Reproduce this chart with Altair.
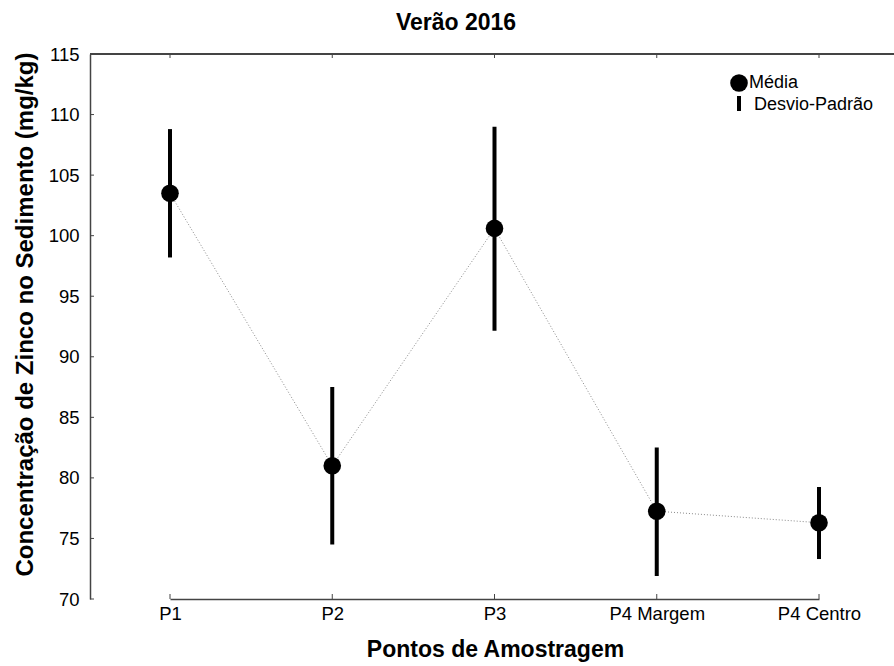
import altair as alt
import pandas as pd

categories = ["P1", "P2", "P3", "P4 Margem", "P4 Centro"]
means = [103.5, 81.0, 100.6, 77.25, 76.3]
lower = [98.2, 74.5, 92.15, 71.9, 73.3]
upper = [108.8, 87.5, 109.0, 82.5, 79.25]
y_ticks = [70, 75, 80, 85, 90, 95, 100, 105, 110, 115]
title_text = "Verão 2016"
x_title = "Pontos de Amostragem"
y_title = "Concentração de Zinco no Sedimento (mg/kg)"
legend_labels = ["Média", "Desvio-Padrão"]

df = pd.DataFrame({"ponto": categories, "media": means, "lo": lower, "hi": upper})
tick_df = pd.DataFrame({"v": y_ticks})
cat_df = pd.DataFrame({"ponto": categories})
legend_df = pd.DataFrame({"label": legend_labels})

W, H = 804, 545
FONT = "Liberation Sans"
AXC = "#444444"

x_scale = alt.Scale(type="point", domain=categories, range=[80, 729], padding=0)
y_scale = alt.Scale(domain=[70, 115], nice=False, zero=False)

x_axis = alt.Axis(
    title=x_title, labelAngle=0, ticks=False, domain=True, domainColor=AXC,
    domainWidth=1.5, labelFont=FONT, labelFontSize=18.5, labelColor="black",
    labelPadding=5, titleFont=FONT, titleFontSize=23, titleFontWeight="bold",
    titleColor="black", titleX=405, titleY=57, titleBaseline="alphabetic",
    titleAlign="center", grid=False,
)
y_axis = alt.Axis(
    title=y_title, values=y_ticks, ticks=False, domain=True, domainColor=AXC,
    domainWidth=1.5, labelFont=FONT, labelFontSize=18.5, labelColor="black",
    labelPadding=11, titleFont=FONT, titleFontSize=24, titleFontWeight="bold",
    titleColor="black", titleX=-58, titleY=260, titleBaseline="alphabetic",
    titleAlign="center", grid=False,
)

X = alt.X("ponto:N", scale=x_scale, sort=categories, axis=x_axis)

base = alt.Chart(df)

line = base.mark_line(color="#8a8a8a", strokeWidth=1, strokeDash=[1, 2]).encode(
    x=X, y=alt.Y("media:Q", scale=y_scale, axis=y_axis),
)
bars = base.mark_rule(color="black", strokeWidth=4, strokeCap="butt").encode(
    x=X, y=alt.Y("lo:Q", scale=y_scale, axis=y_axis), y2="hi:Q",
)
points = base.mark_circle(size=310, color="black", opacity=1).encode(
    x=X, y=alt.Y("media:Q", scale=y_scale, axis=y_axis),
)

ytick_marks = alt.Chart(tick_df).mark_rule(color=AXC, strokeWidth=1).encode(
    y=alt.Y("v:Q", scale=y_scale, axis=y_axis),
    x=alt.value(0), x2=alt.value(4),
)
xtick_bottom = alt.Chart(cat_df).mark_rule(color=AXC, strokeWidth=1).encode(
    x=X, y=alt.value(H), y2=alt.value(H - 5),
)
xtick_top = alt.Chart(cat_df).mark_rule(color=AXC, strokeWidth=1).encode(
    x=X, y=alt.value(0), y2=alt.value(4),
)
top_border = alt.Chart(cat_df).mark_rule(color=AXC, strokeWidth=1.5).encode(
    x=alt.value(0), x2=alt.value(W), y=alt.value(0),
)

leg_base = alt.Chart(legend_df)
leg_circle = leg_base.transform_filter(alt.datum.label == legend_labels[0]).mark_circle(
    size=310, color="black", opacity=1
).encode(x=alt.value(649), y=alt.value(29))
leg_bar = leg_base.transform_filter(alt.datum.label == legend_labels[1]).mark_rule(
    color="black", strokeWidth=4, strokeCap="butt"
).encode(x=alt.value(649), y=alt.value(42), y2=alt.value(57))
leg_text1 = leg_base.transform_filter(alt.datum.label == legend_labels[0]).mark_text(
    align="left", baseline="middle", font=FONT, fontSize=18, color="black"
).encode(x=alt.value(659), y=alt.value(29), text="label:N")
leg_text2 = leg_base.transform_filter(alt.datum.label == legend_labels[1]).mark_text(
    align="left", baseline="middle", font=FONT, fontSize=18, color="black"
).encode(x=alt.value(664), y=alt.value(51), text="label:N")

chart = alt.layer(
    line, bars, points, ytick_marks, xtick_bottom, xtick_top, top_border,
    leg_circle, leg_bar, leg_text1, leg_text2,
).properties(
    width=W, height=H,
    title=alt.TitleParams(
        text=title_text, font=FONT, fontSize=23, fontWeight="bold", color="black",
        anchor="middle", dx=-36, offset=10,
    ),
    autosize=alt.AutoSizeParams(type="none"),
    padding={"left": 90, "top": 54, "right": 0, "bottom": 67},
).configure(background="white").configure_view(stroke=None)

chart.save("out.html", embed_options={"renderer": "svg", "actions": False})
